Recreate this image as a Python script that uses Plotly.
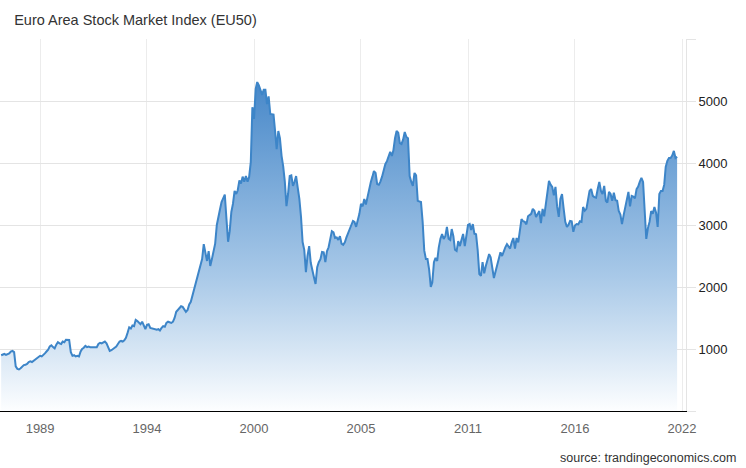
import pandas as pd
import plotly.graph_objects as go

# Monthly index level (Jan 1987 onwards)
eu50_1987_1996 = [
    900, 910, 920, 905, 915, 930, 960, 970, 950, 720, 680, 670,
    690, 720, 740, 745, 760, 790, 800, 790, 810, 840, 850, 870,
    890, 880, 900, 930, 960, 990, 1040, 1060, 1030, 1010, 1070, 1110,
    1090, 1080, 1120, 1110, 1150, 1150, 1145, 950, 890, 900, 880, 890,
    880, 960, 1000, 1020, 1050, 1030, 1040, 1030, 1030, 1020, 1020, 1030,
    1080, 1100, 1090, 1110, 1120, 1090, 1020, 970, 980, 1000, 1020, 1040,
    1080, 1120, 1130, 1120, 1140, 1180, 1260, 1350, 1330, 1380, 1370, 1470,
    1450, 1420, 1400, 1440, 1380, 1320, 1390, 1400, 1340, 1330, 1330, 1320,
    1310, 1320, 1300, 1340, 1370, 1360, 1420, 1440, 1430, 1420, 1440, 1500,
    1600, 1630, 1650, 1690, 1680, 1640, 1600, 1630, 1720, 1760, 1860, 1950,
]
eu50_1997_2006 = [
    2050, 2180, 2240, 2330, 2450, 2690, 2580, 2420, 2580, 2340, 2450, 2580,
    2700, 3000, 3150, 3250, 3370, 3420, 3490, 3100, 2730, 2900, 3210, 3340,
    3550, 3500, 3560, 3720, 3670, 3780, 3700, 3790, 3700, 3775, 4015, 4900,
    4710, 5195, 5305, 5250, 5160, 5100, 5180, 5180, 4950, 5075, 4790, 4790,
    4780, 4500, 4225, 4515, 4400, 4115, 3950, 3700, 3305, 3500, 3790, 3800,
    3630, 3700, 3790, 3600, 3420, 3130, 2725, 2600, 2240, 2500, 2660, 2390,
    2250, 2150, 2050, 2320, 2400, 2450, 2565, 2560, 2400, 2575, 2640, 2760,
    2900, 2880, 2790, 2800, 2760, 2820, 2700, 2680, 2720, 2800, 2880, 2950,
    3000, 3065, 3050, 2970, 3060, 3180, 3340, 3300, 3420, 3330, 3450, 3580,
    3690, 3780, 3870, 3840, 3660, 3650, 3700, 3780, 3900, 3980, 4030, 4120,
]
eu50_2007_2016 = [
    4180, 4115, 4200, 4400, 4515, 4490, 4320, 4305, 4380, 4500, 4420, 4400,
    3790, 3695, 3630, 3840, 3800, 3390, 3380, 3370, 3050, 2590, 2450, 2450,
    2280, 2000, 2070, 2400, 2470, 2420, 2640, 2780, 2855, 2775, 2820, 2970,
    2780, 2760, 2935, 2820, 2600, 2580, 2740, 2660, 2760, 2855, 2660, 2800,
    3000, 3015, 2920, 3015, 2860, 2850, 2600, 2210, 2180, 2400, 2220, 2340,
    2420, 2530, 2480, 2300, 2145, 2250, 2350, 2450, 2560, 2500, 2580, 2640,
    2690, 2645, 2620, 2720, 2790, 2620, 2790, 2720, 2930, 3095, 3060, 3050,
    3010, 3140, 3160, 3180, 3260, 3230, 3130, 3170, 3225, 3030, 3260, 3140,
    3350, 3600, 3710, 3650, 3615, 3480, 3615, 3300, 3130, 3420, 3500, 3270,
    3050, 2970, 3000, 3065, 3060, 2890, 2990, 3015, 3010, 3060, 3050, 3290,
]
eu50_2017_2021 = [
    3230, 3260, 3400, 3550, 3580, 3470, 3450, 3440, 3580, 3695, 3550, 3500,
    3630, 3390, 3360, 3535, 3500, 3390, 3520, 3400, 3390, 3225, 3170, 3015,
    3160, 3305, 3380, 3535, 3300, 3470, 3460, 3430, 3580, 3620, 3700, 3760,
    3695, 3300, 2775, 2950, 3050, 3225, 3180, 3290, 3200, 2970, 3500, 3550,
    3550, 3650, 3935, 4035, 4080, 4080, 4120, 4195, 4080, 4100,
]

values = eu50_1987_1996 + eu50_1997_2006 + eu50_2007_2016 + eu50_2017_2021
dates = pd.date_range("1987-01-01", periods=len(values), freq="MS")

x_tick_dates = ["1989-01-01", "1994-07-01", "2000-01-01", "2005-07-01",
                "2011-01-01", "2016-07-01", "2022-01-01"]
x_tick_labels = ["1989", "1994", "2000", "2005", "2011", "2016", "2022"]
y_tick_vals = [0, 1000, 2000, 3000, 4000, 5000, 6000]
y_tick_labels = ["", "1000", "2000", "3000", "4000", "5000", ""]

fig = go.Figure(go.Scatter(
    x=dates, y=values, mode="lines",
    line=dict(color="#3d85c8", width=2),
    fill="tozeroy",
    fillgradient=dict(
        type="vertical", start=0, stop=5400,
        colorscale=[[0, "#fdfeff"], [0.2, "#d2e3f3"], [0.4, "#a9c9e8"],
                    [1, "#4486c8"]],
    ),
    hoverinfo="x+y",
))

fig.update_layout(
    width=746, height=468,
    margin=dict(l=0, r=60, t=39, b=57),
    paper_bgcolor="white", plot_bgcolor="white",
    font=dict(family="Liberation Sans, Arial, sans-serif", size=13, color="#333"),
    title=dict(text="Euro Area Stock Market Index (EU50)", x=0.019, xanchor="left",
               y=0.957, yanchor="middle", font=dict(size=14.5, color="#333")),
    showlegend=False,
    xaxis=dict(
        range=["1986-12-10", "2022-03-17"],
        tickvals=x_tick_dates, ticktext=x_tick_labels,
        tickfont=dict(color="#666", size=13),
        showgrid=True, gridcolor="#ececec", gridwidth=1,
        showline=True, linecolor="#000", linewidth=1,
        ticks="outside", ticklen=5, tickcolor="rgba(0,0,0,0)",
        zeroline=False,
    ),
    yaxis=dict(
        side="right", range=[0, 6000],
        tickvals=y_tick_vals, ticktext=y_tick_labels,
        tickfont=dict(color="#222", size=13),
        showgrid=True, gridcolor="#e4e4e4", gridwidth=1,
        showline=True, linecolor="#e4e4e4", linewidth=1,
        ticks="outside", ticklen=9, tickcolor="#e4e4e4",
        zeroline=False,
    ),
)

fig.add_annotation(
    text="source: trandingeconomics.com", xref="paper", yref="paper",
    x=1.076, y=-0.127, xanchor="right", yanchor="middle", showarrow=False,
    font=dict(size=12.5, color="#333"),
)

# drop the page's default body margin so the figure sits at the window corner
fig.write_html("out.html", config={"displayModeBar": False},
               post_script="document.body.style.margin='0';")
